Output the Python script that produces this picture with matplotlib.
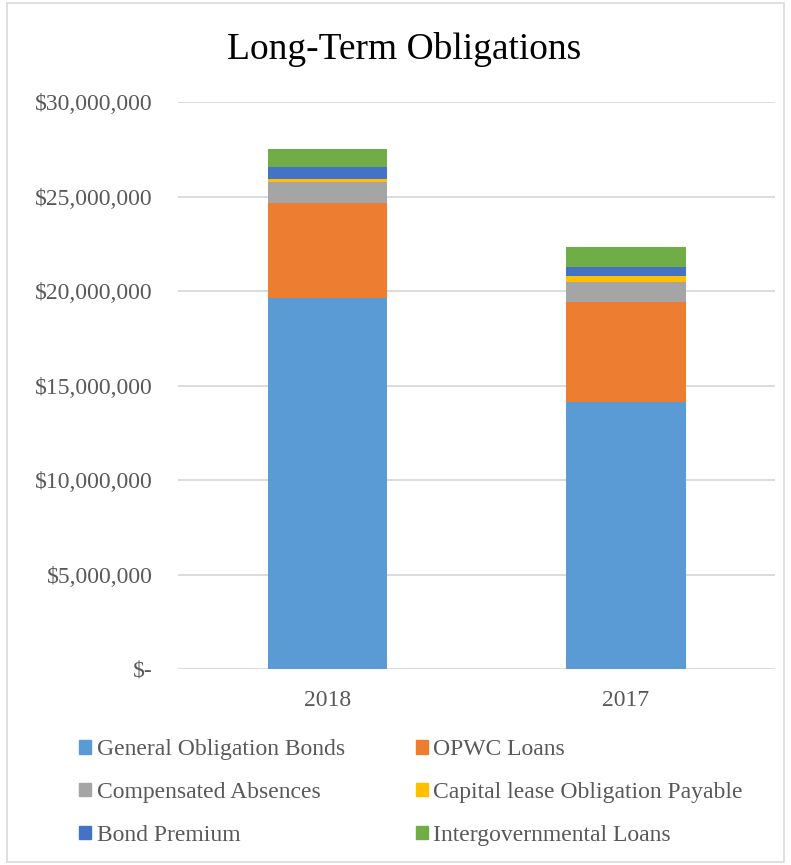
import matplotlib.pyplot as plt
from matplotlib.patches import Rectangle, Patch
from matplotlib.ticker import FuncFormatter

plt.rcParams['font.family'] = ['Liberation Serif', 'DejaVu Serif']

# data
years = ["2018", "2017"]
series = [
    "General Obligation Bonds",
    "OPWC Loans",
    "Compensated Absences",
    "Capital lease Obligation Payable",
    "Bond Premium",
    "Intergovernmental Loans",
]
general_obligation_bonds = [19650000, 14110000]
opwc_loans = [5020000, 5310000]
compensated_absences = [1080000, 1060000]
capital_lease = [190000, 330000]
bond_premium = [600000, 480000]
intergovernmental_loans = [960000, 1020000]

values = [general_obligation_bonds, opwc_loans, compensated_absences,
          capital_lease, bond_premium, intergovernmental_loans]
colors = ["#5B9BD5", "#ED7D31", "#A5A5A5", "#FFC000", "#4472C4", "#70AD47"]

fig = plt.figure(figsize=(7.91, 8.65), dpi=100)
ax = fig.add_axes([0.225, 0.2266, 0.755, 0.6554])

bottom = [0, 0]
for name, vals, col in zip(series, values, colors):
    ax.bar(years, vals, bottom=bottom, width=0.4, color=col, label=name, zorder=3)
    bottom = [b + v for b, v in zip(bottom, vals)]

ax.set_xlim(-0.5, 1.5)
ax.set_ylim(0, 30000000)
ax.set_yticks(range(0, 30000001, 5000000))


def money(v, pos):
    if v == 0:
        return "$-"
    return "${:,.0f}".format(v)


ax.yaxis.set_major_formatter(FuncFormatter(money))
ax.grid(axis="y", color="#d9d9d9", linewidth=1.3, zorder=0)
for s in ax.spines.values():
    s.set_visible(False)
ax.tick_params(axis="both", length=0, labelsize=17, labelcolor="#595959")
ax.tick_params(axis="y", pad=18)
ax.tick_params(axis="x", pad=15)

fig.text(0.511, 0.943, "Long-Term Obligations", ha="center", va="center", fontsize=27)

# legend, column-major order so it reads row by row
order = [0, 2, 4, 1, 3, 5]
handles = [Patch(color=colors[i], label=series[i]) for i in order]
fig.legend(handles=handles, ncol=2, loc="upper left", bbox_to_anchor=(0.085, 0.159),
           frameon=False, fontsize=17, labelcolor="#595959",
           handlelength=0.5, handleheight=0.5, handletextpad=0.25,
           columnspacing=3.0, labelspacing=0.92, borderpad=0)

fig.patches.append(Rectangle((0.009, 0.003), 0.982, 0.993, transform=fig.transFigure,
                             fill=False, edgecolor="#d9d9d9", linewidth=1.2))

fig.savefig("out.png", dpi=100)
